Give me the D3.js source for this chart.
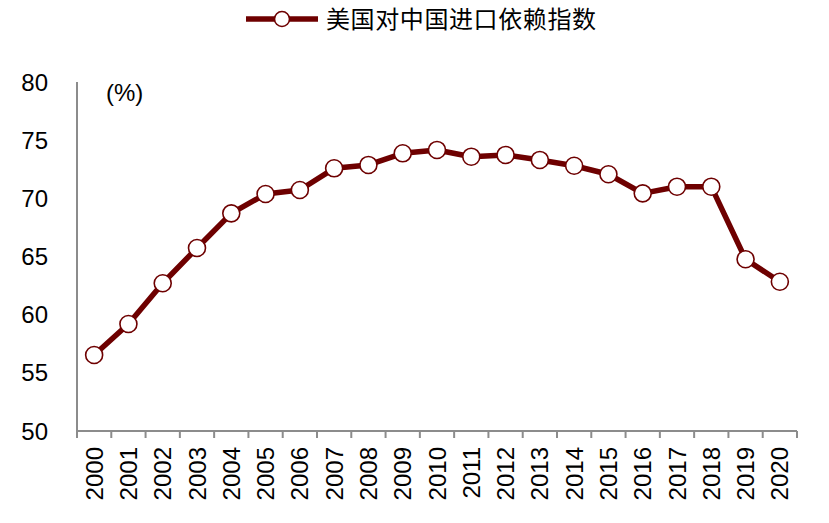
<!DOCTYPE html>
<html><head><meta charset="utf-8">
<script src="https://cdn.jsdelivr.net/npm/d3@7/dist/d3.min.js"></script>
<style>body{margin:0;background:#fff}svg{display:block}</style>
</head><body>
<svg id="c" width="829" height="523"></svg>
<script>
const years = ["2000","2001","2002","2003","2004","2005","2006","2007","2008","2009","2010","2011","2012","2013","2014","2015","2016","2017","2018","2019","2020"];
const values = [56.53,59.2,62.7,65.73,68.71,70.37,70.72,72.58,72.87,73.87,74.16,73.58,73.73,73.3,72.8,72.07,70.43,71.0,71.0,64.76,62.83];
const yTicks = [50,55,60,65,70,75,80];
const seriesName = "美国对中国进口依赖指数";
const unitLabel = "(%)";

(function(){
const svg = d3.select("#c");
const pL = 77, pR = 797, pT = 82, pB = 431;
const color = "#6e0000";
const axisColor = "#8c8c8c";
const font = "'Liberation Sans', Arial, sans-serif";

const x = d3.scaleBand().domain(years).range([pL, pR]);
const y = d3.scaleLinear().domain([50, 80]).range([pB, pT]);

svg.append("line").attr("x1", pL).attr("x2", pL).attr("y1", pT).attr("y2", pB)
  .attr("stroke", axisColor).attr("stroke-width", 2);
svg.append("g").selectAll("text").data(yTicks).join("text")
  .attr("x", 48).attr("y", d => y(d)).attr("dy", "0.36em")
  .attr("text-anchor", "end").attr("font-family", font).attr("font-size", 24)
  .attr("fill", "#000").text(d => d);

svg.append("line").attr("x1", pL).attr("x2", pR).attr("y1", pB).attr("y2", pB)
  .attr("stroke", axisColor).attr("stroke-width", 2);
const bounds = years.map(d => x(d)).concat([x(years[years.length-1]) + x.bandwidth()]);
svg.append("g").selectAll("line").data(bounds).join("line")
  .attr("x1", d => d).attr("x2", d => d).attr("y1", pB).attr("y2", pB + 7)
  .attr("stroke", axisColor).attr("stroke-width", 2);
svg.append("g").selectAll("text").data(years).join("text")
  .attr("transform", d => `translate(${x(d) + x.bandwidth()/2},447) rotate(-90)`)
  .attr("text-anchor", "end").attr("dy", "0.36em")
  .attr("font-family", font).attr("font-size", 24).attr("fill", "#000").text(d => d);

svg.append("text").attr("x", 106).attr("y", 101).attr("font-family", font).attr("font-size", 24)
  .attr("fill", "#000").text(unitLabel);

const line = d3.line().x((d, i) => x(years[i]) + x.bandwidth()/2).y(d => y(d));
svg.append("path").datum(values).attr("d", line).attr("fill", "none")
  .attr("stroke", color).attr("stroke-width", 5.5).attr("stroke-linejoin", "round");
svg.append("g").selectAll("circle").data(values).join("circle")
  .attr("cx", (d, i) => x(years[i]) + x.bandwidth()/2).attr("cy", d => y(d)).attr("r", 8.5)
  .attr("fill", "#fff").attr("stroke", color).attr("stroke-width", 1.6);

const lg = svg.append("g");
lg.append("line").attr("x1", 246).attr("x2", 318).attr("y1", 19).attr("y2", 19)
  .attr("stroke", color).attr("stroke-width", 5.5);
lg.append("circle").attr("cx", 282).attr("cy", 19).attr("r", 7.5)
  .attr("fill", "#fff").attr("stroke", color).attr("stroke-width", 1.6);
lg.append("text").attr("x", 326).attr("y", 19).attr("dy", "0.36em")
  .attr("font-family", "'Noto Sans CJK SC', sans-serif").attr("font-size", 24)
  .attr("letter-spacing", 0.6)
  .attr("fill", "#000").text(seriesName);
})();
</script>
</body></html>
